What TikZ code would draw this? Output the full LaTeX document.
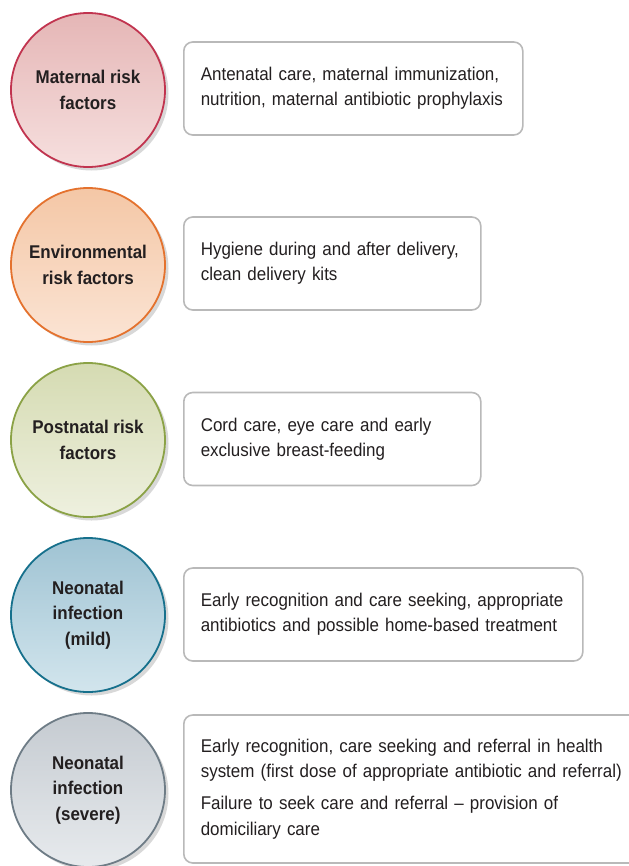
\documentclass[tikz,border=0pt]{standalone}
\usepackage{fontspec}
\setmainfont{Liberation Sans}[FakeStretch=0.92]
\usetikzlibrary{shadows}

\definecolor{testo}{HTML}{231F20}
\definecolor{grigioBox}{HTML}{B9B9B9}
\definecolor{bordoMat}{HTML}{C1344F}
\definecolor{altoMat}{HTML}{E5B6B6}
\definecolor{bassoMat}{HTML}{F6DFDE}
\definecolor{bordoAmb}{HTML}{E4722E}
\definecolor{altoAmb}{HTML}{F4C7A6}
\definecolor{bassoAmb}{HTML}{FBE4D4}
\definecolor{bordoPost}{HTML}{8BA246}
\definecolor{altoPost}{HTML}{D5DBB2}
\definecolor{bassoPost}{HTML}{EEF0DF}
\definecolor{bordoLieve}{HTML}{16708C}
\definecolor{altoLieve}{HTML}{9FC3D3}
\definecolor{bassoLieve}{HTML}{D2E5ED}
\definecolor{bordoGrave}{HTML}{6E7C86}
\definecolor{altoGrave}{HTML}{C5CBD1}
\definecolor{bassoGrave}{HTML}{E7EAED}

\begin{document}
\begin{tikzpicture}[x=1bp, y=1bp,
    fattore/.style={circle, line width=1.8bp, minimum size=154bp, inner sep=0pt,
        align=center, text=testo, font=\fontsize{18.5}{25.5}\selectfont\bfseries,
        drop shadow={shadow xshift=3.5bp, shadow yshift=-3.5bp, fill=black!30}},
    azione/.style={draw=grigioBox, line width=1.6bp, rounded corners=9bp, fill=white,
        anchor=west, align=left, inner xsep=17bp, inner ysep=0pt, text=testo,
        font=\fontsize{18.5}{25.5}\selectfont}]
    \useasboundingbox (0,0) rectangle (629,-866);
    \clip (0,0) rectangle (629,-866);

    % Fattori di rischio
    \node[fattore, draw=bordoMat, top color=altoMat, bottom color=bassoMat] (rischio_mat) at (88,-90)
        {Maternal risk\\factors};
    \node[fattore, draw=bordoAmb, top color=altoAmb, bottom color=bassoAmb] (rischio_amb) at (88,-265)
        {Environmental\\risk factors};
    \node[fattore, draw=bordoPost, top color=altoPost, bottom color=bassoPost] (rischio_post) at (88,-440)
        {Postnatal risk\\factors};
    \node[fattore, draw=bordoLieve, top color=altoLieve, bottom color=bassoLieve] (infez_lieve) at (88,-615)
        {Neonatal\\infection\\(mild)};
    \node[fattore, draw=bordoGrave, top color=altoGrave, bottom color=bassoGrave] (infez_grave) at (88,-790)
        {Neonatal\\infection\\(severe)};

    % Interventi
    \node[azione, text width=305bp, minimum height=93bp] (int_mat) at (183,-88.5)
        {Antenatal care, maternal immunization,\\nutrition, maternal antibiotic prophylaxis};
    \node[azione, text width=263bp, minimum height=93bp] (int_amb) at (183,-263.5)
        {Hygiene during and after delivery,\\clean delivery kits};
    \node[azione, text width=263bp, minimum height=93bp] (int_post) at (183,-439)
        {Cord care, eye care and early\\exclusive breast-feeding};
    \node[azione, text width=365bp, minimum height=93bp] (int_lieve) at (183,-614.5)
        {Early recognition and care seeking, appropriate\\antibiotics and possible home-based treatment};
    \node[azione, text width=430bp, minimum height=148bp] (int_grave) at (183,-789)
        {Early recognition, care seeking and referral in health\\system (first dose of appropriate antibiotic and referral)\\[7bp]
         Failure to seek care and referral -- provision of\\domiciliary care};
\end{tikzpicture}
\end{document}
